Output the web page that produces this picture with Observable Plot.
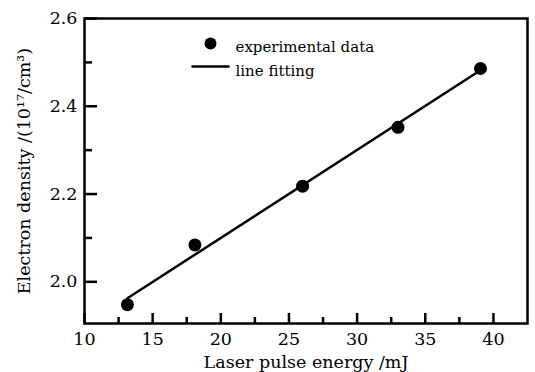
<!DOCTYPE html>
<html><head><meta charset="utf-8">
<script src="https://cdn.jsdelivr.net/npm/d3@7"></script>
<script src="https://cdn.jsdelivr.net/npm/@observablehq/plot@0.6"></script>
<style>body{margin:0;background:#fff} svg text{font-family:"DejaVu Serif","Liberation Serif",serif !important;}</style>
</head><body><div id="chart"></div>
<script>
const energy = [13.15, 18.1, 26.0, 33.0, 39.05];
const density = [1.948, 2.084, 2.218, 2.352, 2.486];
const xMajorTicks = [10, 15, 20, 25, 30, 35, 40];
const xMinorTicks = [12.5, 17.5, 22.5, 27.5, 32.5, 37.5];
const yMajorTicks = [2.0, 2.2, 2.4, 2.6];
const yMinorTicks = [2.1, 2.3, 2.5];
const legendLabels = ["experimental data", "line fitting"];
const xLabel = "Laser pulse energy /mJ";
const yLabel = "Electron density /(10¹⁷/cm³)";

const data = energy.map((x, i) => ({x, y: density[i]}));
const lineShape = {draw(ctx, l) { ctx.moveTo(0, 0); ctx.lineTo(0, -l); }};

const plot = Plot.plot({
  width: 535, height: 372,
  marginLeft: 84, marginTop: 18, marginRight: 8, marginBottom: 49,
  style: {fontFamily: "'DejaVu Serif', serif", fontSize: "16px", color: "#000", background: "#fff"},
  x: {domain: [10, 42.5]},
  y: {domain: [1.905, 2.6]},
  marks: [
    Plot.axisX(xMajorTicks, {tickSize: 10, dy: -10, fill: "none", strokeWidth: 2.5, label: null}),
    Plot.axisX(xMinorTicks, {tickSize: 6, dy: -6, fill: "none", strokeWidth: 2.5, label: null}),
    Plot.axisX(xMajorTicks, {tickSize: 0, tickPadding: 9, tickFormat: d => String(d), label: xLabel, labelAnchor: "center", labelOffset: 44, labelArrow: "none", fontSize: 17.5}),
    Plot.axisY(yMajorTicks, {tickSize: 13, dx: 13, fill: "none", strokeWidth: 2.5, label: null}),
    Plot.axisY(yMinorTicks, {tickSize: 8, dx: 8, fill: "none", strokeWidth: 2.5, label: null}),
    Plot.axisY(yMajorTicks, {tickSize: 0, tickPadding: 7, tickFormat: d => d.toFixed(1), label: yLabel, labelAnchor: "center", labelOffset: 67, labelArrow: "none", fontSize: 17.5}),
    Plot.linearRegressionY(data, {x: "x", y: "y", ci: 0, stroke: "#000", strokeWidth: 2.5}),
    Plot.dot(data, {x: "x", y: "y", r: 6.5, fill: "#000", stroke: "none"}),
    Plot.dot([legendLabels[0]], {frameAnchor: "top-left", dx: 126, dy: 25, r: 6, fill: "#000", stroke: "none"}),
    Plot.text([legendLabels[0]], {text: d => d, frameAnchor: "top-left", textAnchor: "start", dx: 151, dy: 23, fontSize: 15, fill: "#000"}),
    Plot.vector([legendLabels[1]], {frameAnchor: "top-left", dx: 108, dy: 48, length: 36, rotate: 90, anchor: "start", shape: lineShape, stroke: "#000", strokeWidth: 2.5}),
    Plot.text([legendLabels[1]], {text: d => d, frameAnchor: "top-left", textAnchor: "start", dx: 151, dy: 47, fontSize: 15, fill: "#000"}),
    Plot.frame({stroke: "#000", strokeWidth: 2.5})
  ]
});
document.getElementById("chart").append(plot);
</script>
</body></html>
